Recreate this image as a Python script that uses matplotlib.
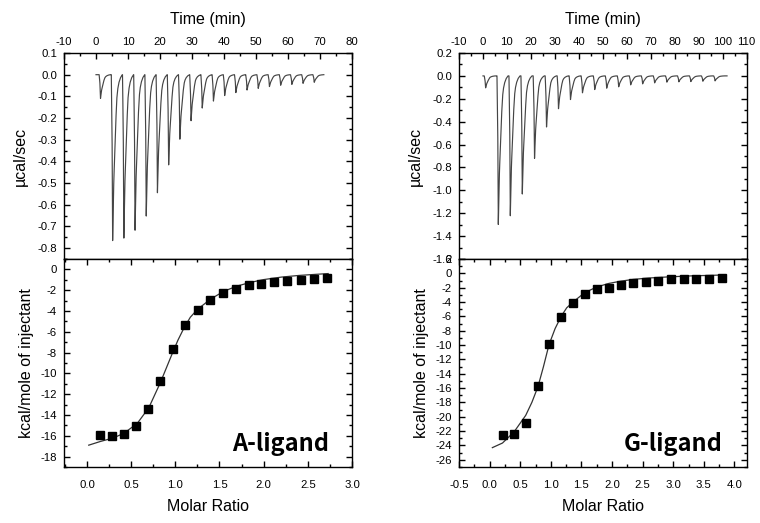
import numpy as np
import matplotlib
matplotlib.use("Agg")
import matplotlib.pyplot as plt
from matplotlib.ticker import MultipleLocator, FuncFormatter

plt.rcParams['font.family'] = ['Liberation Sans', 'DejaVu Sans']
plt.rcParams['axes.unicode_minus'] = False

# ---------------- A-ligand ----------------
a_peak_times = [1.4, 5.2, 8.7, 12.2, 15.7, 19.2, 22.7, 26.2, 29.7, 33.2, 36.7,
                40.2, 43.7, 47.2, 50.7, 54.2, 57.7, 61.2, 64.7, 68.2]
a_peak_depths = [0.11, 0.77, 0.758, 0.72, 0.653, 0.545, 0.419, 0.299, 0.213, 0.154,
                 0.122, 0.097, 0.083, 0.071, 0.063, 0.055, 0.049, 0.045, 0.040, 0.035]
a_trace_span = [0.0, 71.2]
a_ratio = [0.147, 0.283, 0.419, 0.551, 0.691, 0.831, 0.970, 1.110, 1.253, 1.397,
           1.540, 1.687, 1.830, 1.974, 2.117, 2.260, 2.420, 2.570, 2.720]
a_heat = [-15.88, -15.98, -15.79, -15.01, -13.4, -10.74, -7.65, -5.37, -3.86, -2.93,
          -2.30, -1.90, -1.51, -1.38, -1.19, -1.09, -1.03, -0.93, -0.80]
a_fit_x = [0.02, 0.15, 0.30, 0.42, 0.57, 0.70, 0.83, 0.96, 1.03, 1.10, 1.17, 1.25,
           1.40, 1.55, 1.70, 1.85, 2.00, 2.20, 2.40, 2.60, 2.73]
a_fit_y = [-16.9, -16.55, -16.2, -15.75, -14.8, -13.3, -10.9, -8.2, -6.8, -5.6, -4.6,
           -3.85, -2.85, -2.1, -1.6, -1.25, -0.98, -0.74, -0.58, -0.47, -0.40]

# ---------------- G-ligand ----------------
g_peak_times = [1.1, 6.4, 11.4, 16.4, 21.5, 26.5, 31.5, 36.5, 41.5, 46.6, 51.6,
                56.6, 61.6, 66.6, 71.6, 76.7, 81.7, 86.7, 91.7, 96.8]
g_peak_depths = [0.105, 1.30, 1.225, 1.036, 0.725, 0.45, 0.288, 0.207, 0.148, 0.12,
                 0.108, 0.096, 0.079, 0.070, 0.061, 0.055, 0.052, 0.050, 0.047, 0.044]
g_trace_span = [0.0, 101.8]
g_ratio = [0.213, 0.399, 0.589, 0.785, 0.976, 1.167, 1.363, 1.559, 1.755, 1.951,
           2.147, 2.349, 2.55, 2.75, 2.96, 3.17, 3.37, 3.58, 3.79]
g_heat = [-22.5, -22.36, -20.86, -15.7, -9.8, -6.03, -4.16, -2.9, -2.2, -2.0,
          -1.64, -1.36, -1.17, -1.08, -0.84, -0.84, -0.80, -0.80, -0.65]
g_fit_x = [0.045, 0.21, 0.40, 0.59, 0.69, 0.79, 0.88, 0.97, 1.07, 1.17, 1.26, 1.36,
           1.55, 1.75, 1.95, 2.15, 2.35, 2.60, 2.89, 3.30, 3.82]
g_fit_y = [-24.3, -23.66, -22.1, -19.8, -18.0, -15.8, -13.0, -9.96, -7.7, -5.98, -4.8,
           -4.02, -2.71, -1.9, -1.4, -1.08, -0.84, -0.65, -0.51, -0.35, -0.23]

# normalised shape of one injection peak (time offset from minimum, fraction of depth)
peak_dt = [-0.35, -0.15, 0.0, 0.15, 0.3, 0.5, 0.7, 0.9, 1.1, 1.3, 1.6, 2.0, 2.5]
peak_rel = [0.0, 0.35, 1.0, 0.8, 0.64, 0.5, 0.36, 0.24, 0.14, 0.09, 0.05, 0.02, 0.0]

labels = ["A-ligand", "G-ligand"]

W, H = 760, 523
fig = plt.figure(figsize=(W / 100, H / 100), dpi=100)


def frac(x0, x1, ytop, ybot):
    return [x0 / W, 1 - ybot / H, (x1 - x0) / W, (ybot - ytop) / H]


def style(ax):
    for s in ax.spines.values():
        s.set_linewidth(1.0)
        s.set_color('black')
    ax.tick_params(which='both', direction='in', labelsize=8.2, width=1.0, color='black', pad=5)
    ax.tick_params(which='major', length=4)
    ax.tick_params(which='minor', length=2)


def trace(ax, times, depths, span, scale):
    t = np.linspace(span[0], span[1], 8000)
    y = np.zeros_like(t)
    for ti, d in zip(times, depths):
        y -= d * np.interp(t - ti, np.array(peak_dt) * scale, peak_rel, left=0, right=0)
    ax.plot(t, y, color='#454545', lw=0.85)


fmt1 = FuncFormatter(lambda v, pos: "{:.1f}".format(v + 0.0))
fmt0 = FuncFormatter(lambda v, pos: "{:d}".format(int(round(v))))

panels = [
    dict(x0=64, x1=352, times=a_peak_times, depths=a_peak_depths, span=a_trace_span,
         scale=1.2, txlim=(-10, 80), tylim=(-0.85, 0.1), tymaj=0.1, tymin=0.05,
         ratio=a_ratio, heat=a_heat, fx=a_fit_x, fy=a_fit_y, bxlim=(-0.26, 3.0),
         bylim=(-19, 1), txt_x=329),
    dict(x0=459, x1=746.7, times=g_peak_times, depths=g_peak_depths, span=g_trace_span,
         scale=1.6, txlim=(-10, 110), tylim=(-1.6, 0.2), tymaj=0.2, tymin=0.1,
         ratio=g_ratio, heat=g_heat, fx=g_fit_x, fy=g_fit_y, bxlim=(-0.5, 4.2),
         bylim=(-27, 2), txt_x=723),
]

for i, p in enumerate(panels):
    axt = fig.add_axes(frac(p['x0'], p['x1'], 53, 259))
    axb = fig.add_axes(frac(p['x0'], p['x1'], 259, 467))

    # --- raw thermogram ---
    trace(axt, p['times'], p['depths'], p['span'], p['scale'])
    axt.set_xlim(*p['txlim'])
    axt.set_ylim(*p['tylim'])
    axt.xaxis.set_major_locator(MultipleLocator(10))
    axt.xaxis.set_minor_locator(MultipleLocator(5))
    axt.yaxis.set_major_locator(MultipleLocator(p['tymaj']))
    axt.yaxis.set_minor_locator(MultipleLocator(p['tymin']))
    axt.yaxis.set_major_formatter(fmt1)
    style(axt)
    axt.tick_params(which='both', top=True, bottom=False, labeltop=True, labelbottom=False,
                    left=True, right=True, labelleft=True)
    axt.tick_params(axis='x', pad=4)
    axt.xaxis.set_label_position('top')
    axt.set_xlabel("Time (min)", fontsize=11.5, labelpad=10)
    axt.set_ylabel("µcal/sec", fontsize=11.5, labelpad=7)

    # --- integrated heats ---
    axb.plot(p['fx'], p['fy'], color='#333333', lw=0.9, zorder=2)
    axb.plot(p['ratio'], p['heat'], ls='none', marker='s', ms=5.2, color='black', zorder=3)
    axb.set_xlim(*p['bxlim'])
    axb.set_ylim(*p['bylim'])
    axb.xaxis.set_major_locator(MultipleLocator(0.5))
    axb.xaxis.set_minor_locator(MultipleLocator(0.25))
    axb.yaxis.set_major_locator(MultipleLocator(2))
    axb.yaxis.set_minor_locator(MultipleLocator(1))
    axb.xaxis.set_major_formatter(fmt1)
    axb.yaxis.set_major_formatter(fmt0)
    style(axb)
    axb.tick_params(which='both', top=True, bottom=True, left=True, right=True,
                    labeltop=False, labelright=False)
    axb.tick_params(axis='x', pad=9)
    axb.set_xlabel("Molar Ratio", fontsize=11.5, labelpad=7)
    axb.set_ylabel("kcal/mole of injectant", fontsize=11.5, labelpad=5)

    fig.text(p['txt_x'] / W, 1 - 444 / H, labels[i], ha='right', va='center',
             fontsize=17, fontweight='bold', family=['Noto Sans CJK JP', 'DejaVu Sans'])

fig.savefig("out.png", dpi=100)
